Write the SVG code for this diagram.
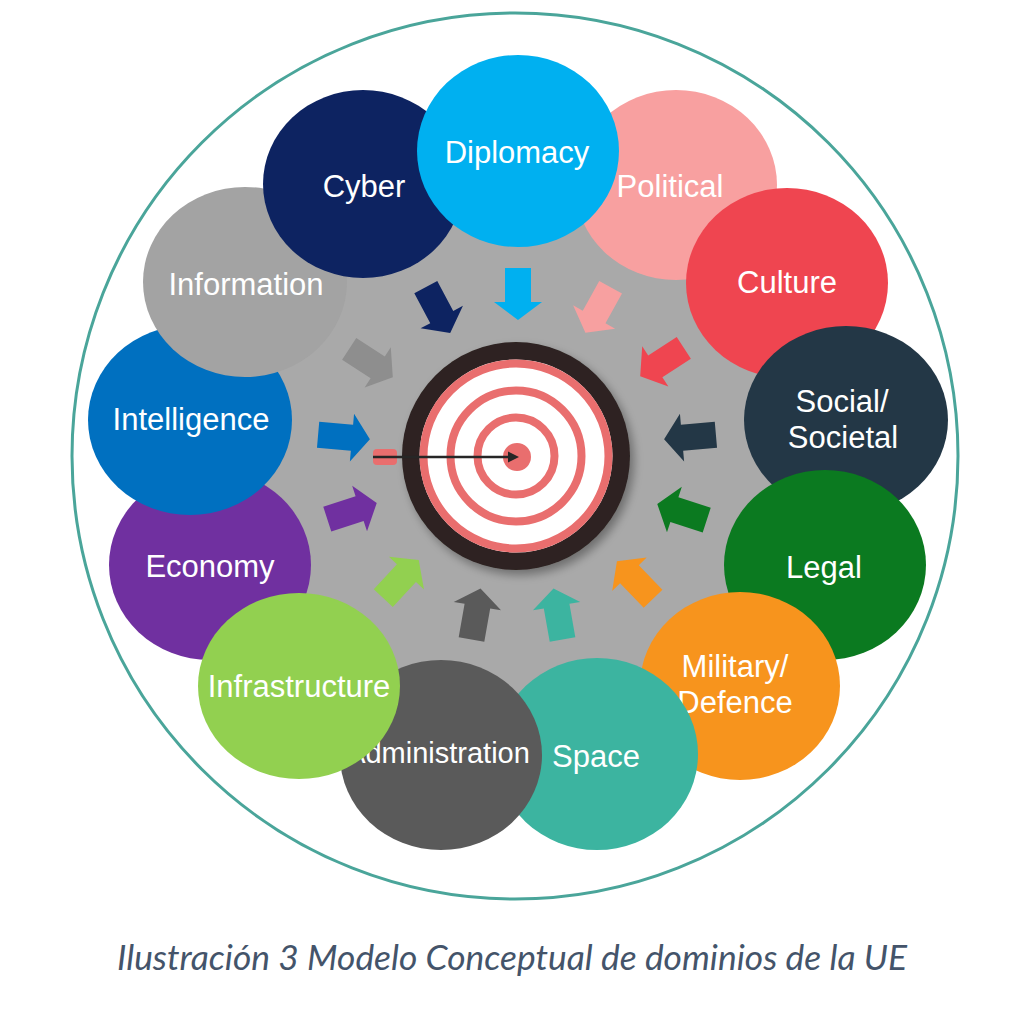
<svg xmlns="http://www.w3.org/2000/svg" xmlns:xlink="http://www.w3.org/1999/xlink" width="1024" height="1020" viewBox="0 0 1024 1020">
<style>
.lbl{font-family:"Liberation Sans",Arial,sans-serif;font-size:31px;fill:#ffffff;text-anchor:middle}
.cap{font-family:Lato,"Open Sans",sans-serif;font-style:italic;font-size:34px;fill:#44546a}
</style>
<defs>
<path id="arr" d="M-26,-13 H8 V-24 L26,0 L8,24 V13 H-26 Z"/>
<filter id="sh" x="-30%" y="-30%" width="160%" height="160%">
<feGaussianBlur in="SourceAlpha" stdDeviation="5"/>
<feOffset dx="4" dy="5" result="b"/>
<feComponentTransfer><feFuncA type="linear" slope="0.35"/></feComponentTransfer>
<feMerge><feMergeNode/><feMergeNode in="SourceGraphic"/></feMerge>
</filter>
</defs>
<rect width="1024" height="1020" fill="#ffffff"/>
<circle cx="515" cy="456" r="443" fill="none" stroke="#4aa59a" stroke-width="3"/>
<circle cx="516" cy="458" r="290" fill="#a9a9a9"/>

<g id="node-political"><ellipse cx="676" cy="185" rx="101" ry="95" fill="#f8a0a0"/><text class="lbl" x="670" y="197">Political</text></g>
<g id="node-culture"><ellipse cx="787" cy="283" rx="101" ry="95" fill="#ef4550"/><text class="lbl" x="787" y="293">Culture</text></g>
<g id="node-social"><ellipse cx="846" cy="420" rx="102" ry="94" fill="#233746"/><text class="lbl" x="842" y="412">Social/</text><text class="lbl" x="843" y="448">Societal</text></g>
<g id="node-legal"><ellipse cx="825" cy="565" rx="101" ry="95" fill="#0b7a20"/><text class="lbl" x="824" y="578">Legal</text></g>
<g id="node-military"><ellipse cx="740" cy="686" rx="100" ry="94" fill="#f7941d"/><text class="lbl" x="735" y="677">Military/</text><text class="lbl" x="735" y="713">Defence</text></g>
<g id="node-space"><ellipse cx="597" cy="754" rx="101" ry="96" fill="#3cb4a0"/><text class="lbl" x="596" y="767">Space</text></g>
<g id="node-administration"><ellipse cx="441" cy="755" rx="101" ry="95" fill="#5a5a5a"/><text class="lbl" x="438" y="763" style="font-size:29px">Administration</text></g>
<g id="node-economy"><ellipse cx="210" cy="565" rx="101" ry="95" fill="#7030a0"/><text class="lbl" x="210" y="577">Economy</text></g>
<g id="node-infrastructure"><ellipse cx="299" cy="686" rx="101" ry="93" fill="#92d050"/><text class="lbl" x="299" y="697">Infrastructure</text></g>
<g id="node-intelligence"><ellipse cx="190" cy="420" rx="102" ry="95" fill="#0070c0"/><text class="lbl" x="191" y="430">Intelligence</text></g>
<g id="node-information"><ellipse cx="245" cy="282" rx="102" ry="95" fill="#a3a3a3"/><text class="lbl" x="246" y="295">Information</text></g>
<g id="node-cyber"><ellipse cx="363" cy="184" rx="100" ry="94" fill="#0d2361"/><text class="lbl" x="364" y="197">Cyber</text></g>
<g id="node-diplomacy"><ellipse cx="518" cy="151" rx="101" ry="96" fill="#00b0f0"/><text class="lbl" x="517" y="163">Diplomacy</text></g>

<g id="node-target">
<circle cx="516" cy="456" r="114" fill="#2d2321" filter="url(#sh)"/>
<circle cx="516" cy="456" r="96.5" fill="#ffffff"/>
<g fill="none" stroke="#e96e6e" stroke-width="8">
<circle cx="516" cy="456" r="92.5"/>
<circle cx="516" cy="456" r="65.5"/>
<circle cx="516" cy="456" r="38.5"/>
</g>
<circle cx="517" cy="457" r="14" fill="#e96e6e"/>
<rect x="373" y="449" width="24" height="16" rx="4" fill="#e96e6e"/>
<line x1="373" y1="457" x2="510" y2="457" stroke="#262626" stroke-width="2.5"/>
<polygon points="519,457 508,451.5 508,462.5" fill="#262626"/>
</g>

<g id="connectors">
<use xlink:href="#arr" transform="translate(438,310) rotate(62)" fill="#0d2361"/>
<use xlink:href="#arr" transform="translate(518,294) rotate(90)" fill="#00b0f0"/>
<use xlink:href="#arr" transform="translate(598,310) rotate(119)" fill="#f7a0a0"/>
<use xlink:href="#arr" transform="translate(662,362) rotate(147)" fill="#ef4550"/>
<use xlink:href="#arr" transform="translate(690,437) rotate(175)" fill="#233746"/>
<use xlink:href="#arr" transform="translate(682,512) rotate(198)" fill="#0b7a20"/>
<use xlink:href="#arr" transform="translate(635,580) rotate(226)" fill="#f7941d"/>
<use xlink:href="#arr" transform="translate(558,614) rotate(260)" fill="#3cb4a0"/>
<use xlink:href="#arr" transform="translate(476,614) rotate(-80)" fill="#5a5a5a"/>
<use xlink:href="#arr" transform="translate(401,579) rotate(-47)" fill="#92d050"/>
<use xlink:href="#arr" transform="translate(352,511) rotate(-18)" fill="#7030a0"/>
<use xlink:href="#arr" transform="translate(344,437) rotate(5)" fill="#0070c0"/>
<use xlink:href="#arr" transform="translate(371,363) rotate(33)" fill="#8e8e8e"/>
</g>

<text class="cap" x="117" y="970" textLength="790" lengthAdjust="spacingAndGlyphs">Ilustración 3 Modelo Conceptual de dominios de la UE</text>
</svg>
